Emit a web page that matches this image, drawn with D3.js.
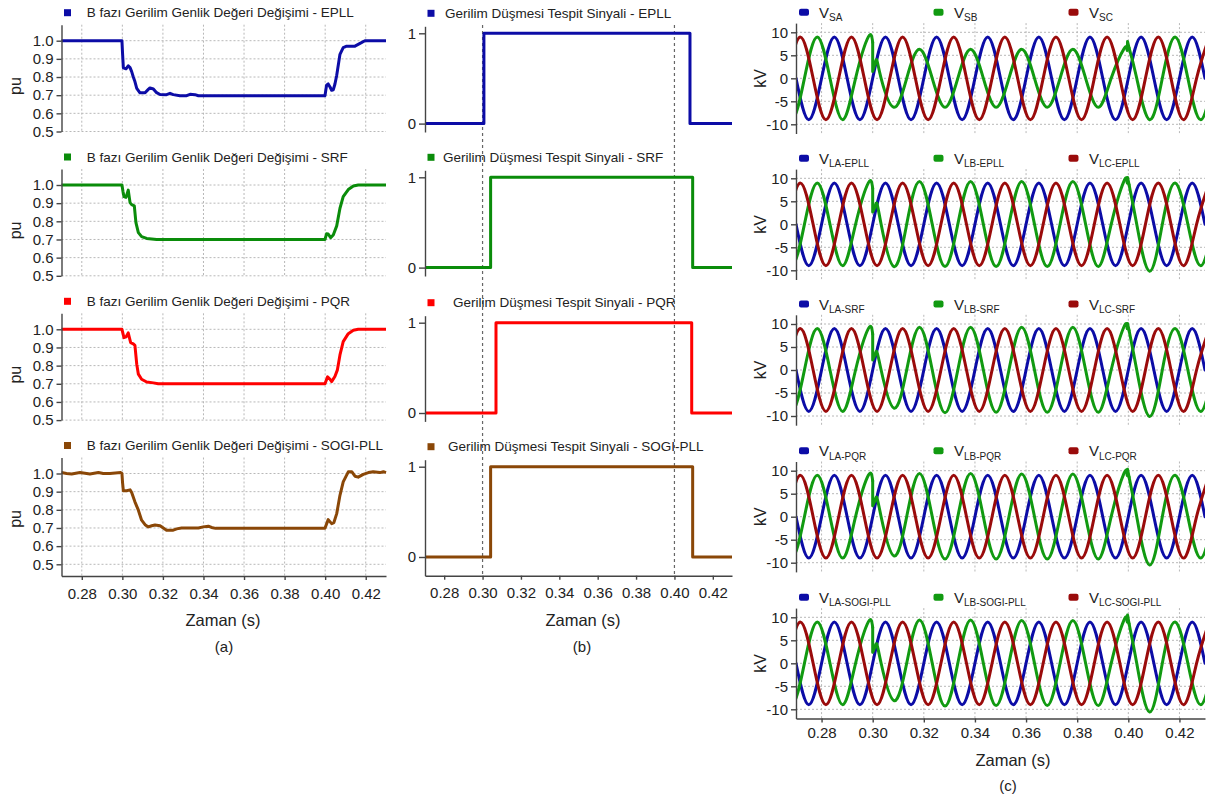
<!DOCTYPE html>
<html><head><meta charset="utf-8">
<script src="https://cdn.jsdelivr.net/npm/d3@7"></script>
<style>
body{margin:0;background:#fff}
svg{display:block}
text{font-family:"Liberation Sans",Arial,Helvetica,sans-serif;fill:#222}
.grid{stroke:#b8b8b8;stroke-width:1;stroke-dasharray:2,2}
.axis path,.axis line{stroke:#444;stroke-width:1.4}
.axis text{font-size:15px;fill:#222}
.leg{font-size:13.5px}
</style>
</head><body>
<svg id="chart" width="1212" height="798"></svg>
<script>
// ---------------- DATA ----------------
const xDomain = [0.27, 0.43];
const xTickVals = [0.28, 0.30, 0.32, 0.34, 0.36, 0.38, 0.40, 0.42];
const puTickVals = [0.5, 0.6, 0.7, 0.8, 0.9, 1.0];
const detTickVals = [0, 1];
const kvTickVals = [-10, -5, 0, 5, 10];
const eventTimes = [0.30, 0.40];

const magTitles = [
  "B fazı Gerilim Genlik Değeri Değişimi - EPLL",
  "B fazı Gerilim Genlik Değeri Değişimi - SRF",
  "B fazı Gerilim Genlik Değeri Değişimi - PQR",
  "B fazı Gerilim Genlik Değeri Değişimi - SOGI-PLL"
];
const detTitles = [
  "Gerilim Düşmesi Tespit Sinyali - EPLL",
  "Gerilim Düşmesi Tespit Sinyali - SRF",
  "Gerilim Düşmesi Tespit Sinyali - PQR",
  "Gerilim Düşmesi Tespit Sinyali - SOGI-PLL"
];
const voltSubs = [
  ["SA", "SB", "SC"],
  ["LA-EPLL", "LB-EPLL", "LC-EPLL"],
  ["LA-SRF", "LB-SRF", "LC-SRF"],
  ["LA-PQR", "LB-PQR", "LC-PQR"],
  ["LA-SOGI-PLL", "LB-SOGI-PLL", "LC-SOGI-PLL"]
];

// (a) B-phase amplitude [t, pu]
const magEPLL = [[0.27,1.0],[0.2998,1.0],[0.3001,0.93],[0.3005,0.85],[0.3018,0.845],[0.3029,0.862],[0.3038,0.852],[0.3046,0.83],[0.3054,0.80],[0.3062,0.775],[0.3071,0.738],[0.3087,0.713],[0.3112,0.713],[0.3128,0.732],[0.3136,0.740],[0.3153,0.734],[0.3169,0.714],[0.3186,0.704],[0.3218,0.703],[0.3235,0.710],[0.3251,0.703],[0.3284,0.697],[0.3317,0.697],[0.3334,0.705],[0.3358,0.703],[0.3375,0.697],[0.3999,0.697],[0.4007,0.755],[0.4015,0.762],[0.4024,0.745],[0.4032,0.727],[0.4040,0.730],[0.4048,0.760],[0.4057,0.810],[0.4073,0.925],[0.4089,0.962],[0.4106,0.970],[0.4147,0.970],[0.4172,0.985],[0.4196,1.0],[0.43,1.0]];
const magSRF = [[0.27,1.0],[0.2998,1.0],[0.3003,0.965],[0.3008,0.936],[0.3018,0.932],[0.3029,0.972],[0.3038,0.903],[0.3046,0.892],[0.3059,0.885],[0.3067,0.793],[0.3079,0.738],[0.3095,0.716],[0.3120,0.706],[0.3169,0.700],[0.3999,0.700],[0.4007,0.731],[0.4015,0.730],[0.4027,0.710],[0.4040,0.725],[0.4057,0.775],[0.4073,0.872],[0.4089,0.936],[0.4114,0.975],[0.4139,0.995],[0.4163,1.0],[0.43,1.0]];
const magPQR = [[0.27,1.0],[0.2998,1.0],[0.3008,0.954],[0.3018,0.958],[0.3029,0.980],[0.3041,0.927],[0.3054,0.920],[0.3062,0.912],[0.3071,0.808],[0.3079,0.753],[0.3095,0.725],[0.3120,0.710],[0.3153,0.705],[0.3177,0.700],[0.3999,0.700],[0.4012,0.738],[0.4024,0.725],[0.4032,0.712],[0.4048,0.740],[0.4060,0.775],[0.4073,0.859],[0.4089,0.932],[0.4114,0.976],[0.4139,0.995],[0.4163,1.0],[0.43,1.0]];
const magSOGI = [[0.27,1.005],[0.2725,1.0],[0.2750,0.997],[0.2791,1.005],[0.2824,1.0],[0.2840,0.997],[0.2882,1.005],[0.2906,1.0],[0.2939,1.0],[0.2992,1.005],[0.2998,1.0],[0.3001,0.95],[0.3005,0.905],[0.3021,0.905],[0.3038,0.910],[0.3046,0.895],[0.3062,0.844],[0.3079,0.798],[0.3095,0.743],[0.3112,0.718],[0.3128,0.706],[0.3145,0.712],[0.3161,0.716],[0.3186,0.712],[0.3202,0.700],[0.3218,0.688],[0.3251,0.688],[0.3268,0.695],[0.3292,0.700],[0.3375,0.700],[0.3399,0.706],[0.3424,0.710],[0.3440,0.703],[0.3460,0.698],[0.3999,0.698],[0.4015,0.746],[0.4032,0.724],[0.4043,0.730],[0.4057,0.779],[0.4073,0.880],[0.4089,0.954],[0.4114,1.009],[0.4131,1.010],[0.4147,0.985],[0.4163,0.980],[0.4188,0.995],[0.4213,1.005],[0.4237,1.010],[0.4270,1.005],[0.4287,1.010],[0.43,1.005]];

// (b) detection signals [t, 0/1]
const detEPLL = [[0.27,0],[0.3007,0],[0.3007,1],[0.4081,1],[0.4081,0],[0.43,0]];
const detSRF  = [[0.27,0],[0.3042,0],[0.3042,1],[0.4095,1],[0.4095,0],[0.43,0]];
const detPQR  = [[0.27,0],[0.3070,0],[0.3070,1],[0.4090,1],[0.4090,0],[0.43,0]];
const detSOGI = [[0.27,0],[0.3042,0],[0.3042,1],[0.4095,1],[0.4095,0],[0.43,0]];

// (c) phase voltages [t, kV] (peaks / zero crossings)
const vA = [[0.270,0],[0.275,-9],[0.280,0],[0.285,9],[0.290,0],[0.295,-9],[0.300,0],[0.305,9],[0.310,0],[0.315,-9],[0.320,0],[0.325,9],[0.330,0],[0.335,-9],[0.340,0],[0.345,9],[0.350,0],[0.355,-9],[0.360,0],[0.365,9],[0.370,0],[0.375,-9],[0.380,0],[0.385,9],[0.390,0],[0.395,-9],[0.400,0],[0.405,9],[0.410,0],[0.415,-9],[0.420,0],[0.425,9],[0.430,0]];
const vC = [[0.2667,0],[0.2717,9],[0.2767,0],[0.2817,-9],[0.2867,0],[0.2917,9],[0.2967,0],[0.3017,-9],[0.3067,0],[0.3117,9],[0.3167,0],[0.3217,-9],[0.3267,0],[0.3317,9],[0.3367,0],[0.3417,-9],[0.3467,0],[0.3517,9],[0.3567,0],[0.3617,-9],[0.3667,0],[0.3717,9],[0.3767,0],[0.3817,-9],[0.3867,0],[0.3917,9],[0.3967,0],[0.4017,-9],[0.4067,0],[0.4117,9],[0.4167,0],[0.4217,-9],[0.4267,0],[0.4317,9]];
const vBpre = [[0.2633,0],[0.2683,-9],[0.2733,0],[0.2783,9],[0.2833,0],[0.2883,-9],[0.2933,0],[0.2983,9],[0.3000,7.8]];

const vBsrc = [vBpre,
  [[0.3000,7.8],[0.3000,1.5],[0.3008,3.0]],
  [[0.3008,3.0],[0.3016,4.0],[0.3033,0],[0.3083,-6.3],[0.3133,0],[0.3183,6.3],[0.3233,0],[0.3283,-6.3],[0.3333,0],[0.3383,6.3],[0.3433,0],[0.3483,-6.3],[0.3533,0],[0.3583,6.3],[0.3633,0],[0.3683,-6.3],[0.3733,0],[0.3783,6.3],[0.3833,0],[0.3883,-6.3],[0.3933,0],[0.3983,6.4],[0.3996,6.1]],
  [[0.3996,6.1],[0.3997,8.0],[0.4003,6.6]],
  [[0.4003,6.6],[0.4033,0],[0.4083,-9],[0.4133,0],[0.4183,9],[0.4233,0],[0.4283,-9],[0.4333,0]]
];
const vBepll = [vBpre,
  [[0.3000,7.8],[0.3000,2.7],[0.3008,3.6]],
  [[0.3008,3.6],[0.3016,4.6],[0.3033,0],[0.3083,-9.2],[0.3133,0],[0.3183,9.3],[0.3233,0],[0.3283,-9.2],[0.3333,0],[0.3383,9.3],[0.3433,0],[0.3483,-9.2],[0.3533,0],[0.3583,9.3],[0.3633,0],[0.3683,-9.2],[0.3733,0],[0.3783,9.3],[0.3833,0],[0.3883,-9.2],[0.3933,0],[0.3983,9.4],[0.3996,9.0]],
  [[0.3996,9.0],[0.3997,10.2],[0.4003,8.6]],
  [[0.4003,8.6],[0.4033,0],[0.4083,-10.2],[0.4133,0],[0.4183,9],[0.4233,0],[0.4283,-9],[0.4333,0]]
];
const vBsrf = [vBpre,
  [[0.3000,7.8],[0.3000,2.2],[0.3008,3.2]],
  [[0.3008,3.2],[0.3016,4.0],[0.3033,0],[0.3083,-8.3],[0.3133,0],[0.3183,9.3],[0.3233,0],[0.3283,-9.3],[0.3333,0],[0.3383,9.3],[0.3433,0],[0.3483,-9.2],[0.3533,0],[0.3583,9.3],[0.3633,0],[0.3683,-9.2],[0.3733,0],[0.3783,9.3],[0.3833,0],[0.3883,-9.2],[0.3933,0],[0.3983,9.4],[0.3996,9.0]],
  [[0.3996,9.0],[0.3997,10.1],[0.4003,8.6]],
  [[0.4003,8.6],[0.4033,0],[0.4083,-10.1],[0.4133,0],[0.4183,9],[0.4233,0],[0.4283,-9],[0.4333,0]]
];
const vBpqr = [vBpre,
  [[0.3000,7.8],[0.3000,2.4],[0.3008,3.4]],
  [[0.3008,3.4],[0.3016,4.2],[0.3033,0],[0.3083,-8.5],[0.3133,0],[0.3183,9.4],[0.3233,0],[0.3283,-9.2],[0.3333,0],[0.3383,9.4],[0.3433,0],[0.3483,-9.2],[0.3533,0],[0.3583,9.3],[0.3633,0],[0.3683,-9.2],[0.3733,0],[0.3783,9.3],[0.3833,0],[0.3883,-9.2],[0.3933,0],[0.3983,9.4],[0.3996,9.0]],
  [[0.3996,9.0],[0.3997,10.3],[0.4003,8.6]],
  [[0.4003,8.6],[0.4033,0],[0.4083,-10.5],[0.4133,0],[0.4183,9],[0.4233,0],[0.4283,-9],[0.4333,0]]
];
const vBsogi = [vBpre,
  [[0.3000,7.8],[0.3000,2.4],[0.3008,3.4]],
  [[0.3008,3.4],[0.3016,4.2],[0.3033,0],[0.3083,-8.1],[0.3133,0],[0.3183,9.4],[0.3233,0],[0.3283,-9.3],[0.3333,0],[0.3383,9.4],[0.3433,0],[0.3483,-9.2],[0.3533,0],[0.3583,9.3],[0.3633,0],[0.3683,-9.2],[0.3733,0],[0.3783,9.3],[0.3833,0],[0.3883,-9.2],[0.3933,0],[0.3983,9.4],[0.3996,9.0]],
  [[0.3996,9.0],[0.3997,10.5],[0.4003,8.6]],
  [[0.4003,8.6],[0.4033,0],[0.4083,-10.6],[0.4133,0],[0.4183,9],[0.4233,0],[0.4283,-9],[0.4333,0]]
];

// ---------------- STYLE / LAYOUT ----------------
const BLUE = "#0c0ca6", GREEN = "#0a8c0a", RED = "#ff0000", BROWN = "#8a4707", DRED = "#9a0b0b", CGREEN = "#119a11";
const magSeries = [magEPLL, magSRF, magPQR, magSOGI];
const detSeries = [detEPLL, detSRF, detPQR, detSOGI];
const abColors = [BLUE, GREEN, RED, BROWN];
const voltB = [vBsrc, vBepll, vBsrf, vBpqr, vBsogi];

const LA = {x0: 61.5, x1: 386, rows: [40.7, 185, 329.3, 473.5], h: 90.8};
const LB = {x0: 425, x1: 732, rows: [33.3, 177.3, 322.7, 466.7], h: 90.3, legX: [445, 443, 453, 448]};
const LC = {x0: 796, x1: 1205, rows: [32.3, 178.3, 324, 470.7, 617.3], h: 92};

const svg = d3.select("#chart");
const fmt2 = d3.format(".2f");

function styleAxis(g) {
  g.attr("class", "axis").attr("font-size", null).attr("font-family", null);
}

// ---------------- PANEL (a) ----------------
magSeries.forEach((data, i) => {
  const r = LA.rows[i], last = i === 3;
  const x = d3.scaleLinear().domain(xDomain).range([LA.x0, LA.x1]);
  const y = d3.scaleLinear().domain([0.5, 1.0]).range([r + LA.h, r]);
  const top = r - 16, bot = last ? r + LA.h + 11.7 : r + LA.h;
  const g = svg.append("g");
  g.selectAll(null).data(xTickVals).join("line").attr("class", "grid")
    .attr("x1", d => x(d)).attr("x2", d => x(d)).attr("y1", top).attr("y2", bot);
  g.selectAll(null).data(puTickVals).join("line").attr("class", "grid")
    .attr("x1", LA.x0).attr("x2", LA.x1).attr("y1", d => y(d)).attr("y2", d => y(d));
  g.append("path").datum(data)
    .attr("d", d3.line().x(d => x(d[0])).y(d => y(d[1])))
    .attr("fill", "none").attr("stroke", abColors[i]).attr("stroke-width", 3).attr("stroke-linejoin", "round");
  const yAx = y.copy().domain([y.invert(bot), y.invert(top)]).range([bot, top]);
  g.append("g").attr("transform", `translate(${LA.x0},0)`)
    .call(d3.axisLeft(yAx).tickValues(puTickVals).tickFormat(d3.format(".1f")).tickSize(5).tickSizeOuter(0).tickPadding(3))
    .call(styleAxis);
  if (last) {
    g.append("g").attr("transform", `translate(0,${bot})`)
      .call(d3.axisBottom(x).tickValues(xTickVals).tickFormat(fmt2).tickSize(4).tickSizeOuter(0).tickPadding(8))
      .call(styleAxis);
  }
  g.append("text").attr("transform", `translate(15,${r + LA.h / 2}) rotate(-90)`)
    .attr("text-anchor", "middle").attr("dominant-baseline", "central").style("font-size", "16px").text("pu");
  g.append("rect").attr("x", 64).attr("y", r - 31.5).attr("width", 7).attr("height", 7).attr("fill", abColors[i]);
  g.append("text").attr("class", "leg").attr("x", 86.7).attr("y", r - 28).attr("dominant-baseline", "central").text(magTitles[i]);
});

// ---------------- PANEL (b) ----------------
{
  const x = d3.scaleLinear().domain(xDomain).range([LB.x0, LB.x1]);
  svg.append("g").selectAll(null).data(eventTimes).join("line")
    .attr("x1", d => x(d)).attr("x2", d => x(d)).attr("y1", 25).attr("y2", 577)
    .attr("stroke", "#666").attr("stroke-width", 1.2).attr("stroke-dasharray", "3,3");
  detSeries.forEach((data, i) => {
    const r = LB.rows[i], last = i === 3;
    const y = d3.scaleLinear().domain([0, 1]).range([r + LB.h, r]);
    const top = r - 7, bot = last ? r + LB.h + 18.7 : r + LB.h + 8.4;
    const g = svg.append("g");
    g.append("path").datum(data)
      .attr("d", d3.line().x(d => x(d[0])).y(d => y(d[1])))
      .attr("fill", "none").attr("stroke", abColors[i]).attr("stroke-width", 3).attr("stroke-linejoin", "round");
    const yAx = y.copy().domain([y.invert(bot), y.invert(top)]).range([bot, top]);
    g.append("g").attr("transform", `translate(${LB.x0},0)`)
      .call(d3.axisLeft(yAx).tickValues(detTickVals).tickFormat(d3.format("d")).tickSize(6).tickSizeOuter(0).tickPadding(3))
      .call(styleAxis);
    if (last) {
      g.append("g").attr("transform", `translate(0,${bot})`)
        .call(d3.axisBottom(x).tickValues(xTickVals).tickFormat(fmt2).tickSize(4).tickSizeOuter(0).tickPadding(8))
        .call(styleAxis);
    }
    g.append("rect").attr("x", 427.5).attr("y", r - 23.5).attr("width", 7).attr("height", 7).attr("fill", abColors[i]);
    g.append("text").attr("class", "leg").attr("x", LB.legX[i]).attr("y", r - 20).attr("dominant-baseline", "central").text(detTitles[i]);
  });
}

// ---------------- PANEL (c) ----------------
{
  const x = d3.scaleLinear().domain(xDomain).range([LC.x0, LC.x1]);
  const cColors = [BLUE, CGREEN, DRED];
  const legMX = [804, 938.5, 1073.5], legTX = [819, 954, 1089];
  voltB.forEach((segsB, i) => {
    const r = LC.rows[i], last = i === 4;
    const y = d3.scaleLinear().domain([-10, 10]).range([r + LC.h, r]);
    const top = y(12), bot = y(-12);
    const g = svg.append("g");
    const cid = "clipc" + i;
    svg.append("clipPath").attr("id", cid).append("rect")
      .attr("x", LC.x0).attr("y", top).attr("width", LC.x1 - LC.x0).attr("height", bot - top);
    g.selectAll(null).data(xTickVals).join("line").attr("class", "grid")
      .attr("x1", d => x(d)).attr("x2", d => x(d)).attr("y1", top).attr("y2", bot);
    g.selectAll(null).data(kvTickVals).join("line").attr("class", "grid")
      .attr("x1", LC.x0).attr("x2", LC.x1).attr("y1", d => y(d)).attr("y2", d => y(d));
    const lineN = d3.line().x(d => x(d[0])).y(d => y(d[1])).curve(d3.curveNatural);
    const lineL = d3.line().x(d => x(d[0])).y(d => y(d[1]));
    const seriesSegs = [[vA], segsB, [vC]];
    const pg = g.append("g").attr("clip-path", `url(#${cid})`);
    seriesSegs.forEach((segs, k) => {
      pg.selectAll(null).data(segs).join("path")
        .attr("d", s => (s.length > 3 ? lineN : lineL)(s))
        .attr("fill", "none").attr("stroke", cColors[k]).attr("stroke-width", 3)
        .attr("stroke-linejoin", "round").attr("stroke-linecap", "round");
    });
    const yAx = y.copy().domain([-12, 12]).range([bot, top]);
    g.append("g").attr("transform", `translate(${LC.x0},0)`)
      .call(d3.axisLeft(yAx).tickValues(kvTickVals).tickFormat(d => String(d)).tickSize(5).tickSizeOuter(0).tickPadding(3))
      .call(styleAxis);
    if (last) {
      g.append("g").attr("transform", `translate(0,${bot})`)
        .call(d3.axisBottom(x).tickValues(xTickVals).tickFormat(fmt2).tickSize(4).tickSizeOuter(0).tickPadding(5))
        .call(styleAxis);
    }
    g.append("text").attr("transform", `translate(760,${y(0)}) rotate(-90)`)
      .attr("text-anchor", "middle").attr("dominant-baseline", "central").style("font-size", "16px").text("kV");
    voltSubs[i].forEach((sub, k) => {
      g.append("rect").attr("x", legMX[k] - 5).attr("y", r - 23.5).attr("width", 10).attr("height", 7)
        .attr("rx", 2).attr("fill", cColors[k]);
      const t = g.append("text").attr("x", legTX[k]).attr("y", r - 14.5).style("font-size", "15px");
      t.append("tspan").text("V");
      t.append("tspan").attr("dy", 3.5).style("font-size", "10px").text(sub);
    });
  });
}

// ---------------- AXIS TITLES ----------------
const titles = [
  {x: 223, y: 626, t: "Zaman (s)", s: 16.5},
  {x: 583, y: 626, t: "Zaman (s)", s: 16.5},
  {x: 1013, y: 766, t: "Zaman (s)", s: 16.5},
  {x: 224, y: 652, t: "(a)", s: 15},
  {x: 582, y: 652, t: "(b)", s: 15},
  {x: 1008, y: 791, t: "(c)", s: 15}
];
svg.selectAll(null).data(titles).join("text")
  .attr("x", d => d.x).attr("y", d => d.y).attr("text-anchor", "middle")
  .style("font-size", d => d.s + "px").text(d => d.t);
</script>
</body></html>
